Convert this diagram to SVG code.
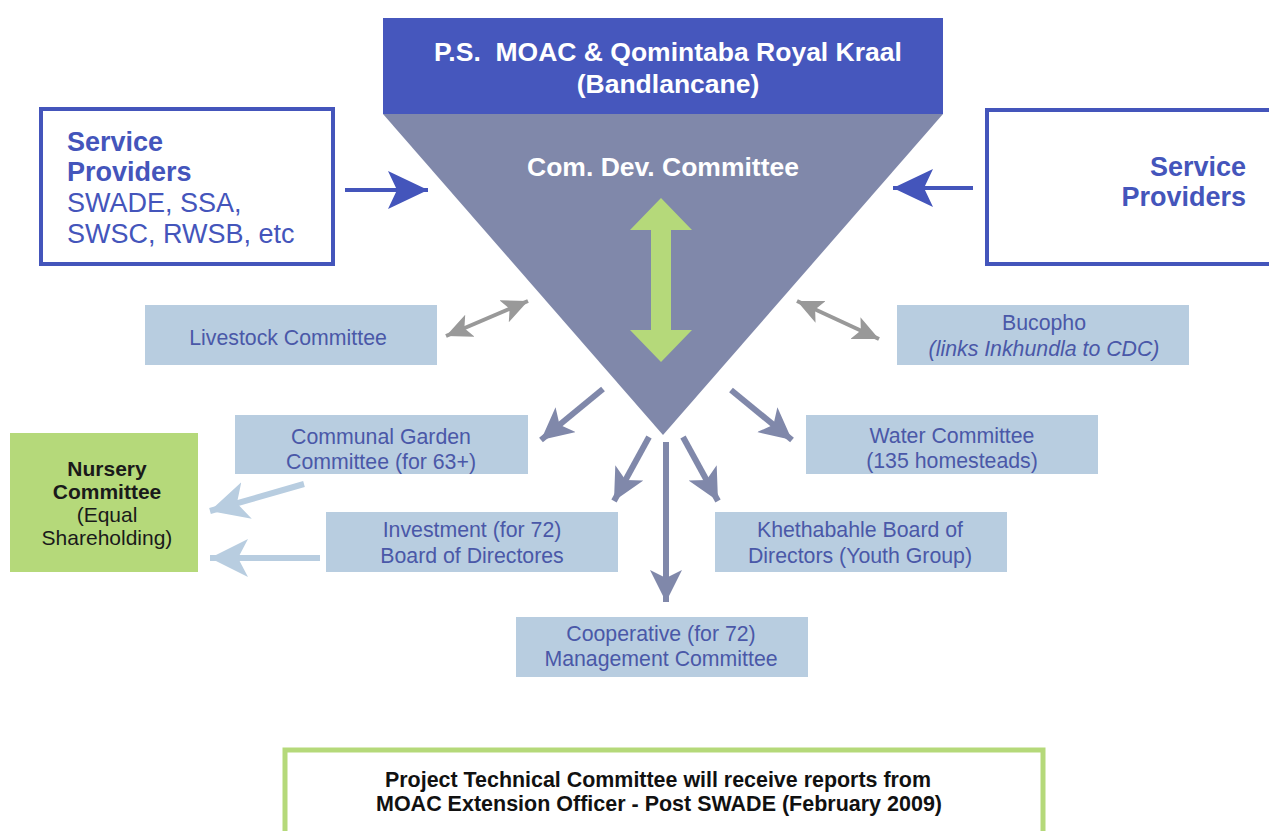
<svg xmlns="http://www.w3.org/2000/svg" width="1269" height="831" viewBox="0 0 1269 831">
<style>
.t{font-family:"Liberation Sans",Arial,sans-serif}
.w{fill:#ffffff;font-weight:bold}
.sp{fill:#4455bb;font-size:27px}
.lb{fill:#b8cde0}
.lt{fill:#4a58a8;font-size:21.3px;text-anchor:middle}
.nt{fill:#1a1a1a;font-size:21px;text-anchor:middle}
.bt{fill:#111111;font-size:21.5px;font-weight:bold;text-anchor:middle}
</style>
<defs>
<marker id="hb" markerUnits="userSpaceOnUse" markerWidth="42" markerHeight="40" refX="40" refY="19" orient="auto"><path d="M0,0 L40,19 L0,38 L9,19 Z" fill="#4455bb"/></marker>
<marker id="hs" markerUnits="userSpaceOnUse" markerWidth="34" markerHeight="34" refX="32" refY="16" orient="auto"><path d="M0,0 L32,16 L0,32 L8,16 Z" fill="#8088aa"/></marker>
<marker id="hg" markerUnits="userSpaceOnUse" markerWidth="28" markerHeight="26" refX="26" refY="12" orient="auto-start-reverse"><path d="M0,0 L26,12 L0,24 L6,12 Z" fill="#999999"/></marker>
<marker id="hl" markerUnits="userSpaceOnUse" markerWidth="40" markerHeight="40" refX="38" refY="19" orient="auto"><path d="M0,0 L38,19 L0,38 L10,19 Z" fill="#b8cde0"/></marker>
</defs>
<rect width="1269" height="831" fill="#ffffff"/>

<g id="cdc">
<polygon points="383,114 943,114 663,435" fill="#8088aa"/>
<text class="t w" x="663" y="176" font-size="26.5" text-anchor="middle">Com. Dev. Committee</text>
<polygon points="661,198 692,230 671,230 671,330 692,330 661,362 630,330 651,330 651,230 630,230" fill="#b5d97a"/>
</g>

<g id="top">
<rect x="383" y="18" width="560" height="96" fill="#4657bd"/>
<text class="t w" x="668" y="61" font-size="26.5" text-anchor="middle" xml:space="preserve">P.S.  MOAC &amp; Qomintaba Royal Kraal</text>
<text class="t w" x="668" y="93" font-size="26.5" text-anchor="middle">(Bandlancane)</text>
</g>

<g id="sp-left">
<rect x="41" y="109" width="292" height="155" fill="#ffffff" stroke="#4455bb" stroke-width="4"/>
<text class="t sp" x="67" y="151" font-weight="bold">Service</text>
<text class="t sp" x="67" y="181" font-weight="bold">Providers</text>
<text class="t sp" x="67" y="212">SWADE, SSA,</text>
<text class="t sp" x="67" y="243">SWSC, RWSB, etc</text>
</g>

<g id="sp-right">
<rect x="987" y="110" width="290" height="154" fill="#ffffff" stroke="#4455bb" stroke-width="4"/>
<text class="t sp" x="1246" y="176" font-weight="bold" text-anchor="end">Service</text>
<text class="t sp" x="1246" y="206" font-weight="bold" text-anchor="end">Providers</text>
</g>

<g id="livestock">
<rect class="lb" x="145" y="305" width="292" height="60"/>
<text class="t lt" x="288" y="345">Livestock Committee</text>
</g>
<g id="bucopho">
<rect class="lb" x="897" y="305" width="292" height="60"/>
<text class="t lt" x="1044" y="330">Bucopho</text>
<text class="t lt" x="1044" y="356" font-style="italic">(links Inkhundla to CDC)</text>
</g>
<g id="garden">
<rect class="lb" x="235" y="415" width="293" height="59"/>
<text class="t lt" x="381" y="444">Communal Garden</text>
<text class="t lt" x="381" y="469">Committee (for 63+)</text>
</g>
<g id="water">
<rect class="lb" x="806" y="415" width="292" height="59"/>
<text class="t lt" x="952" y="443">Water Committee</text>
<text class="t lt" x="952" y="468">(135 homesteads)</text>
</g>
<g id="investment">
<rect class="lb" x="326" y="512" width="292" height="60"/>
<text class="t lt" x="472" y="537">Investment (for 72)</text>
<text class="t lt" x="472" y="563">Board of Directores</text>
</g>
<g id="khethabahle">
<rect class="lb" x="715" y="512" width="292" height="60"/>
<text class="t lt" x="860" y="537">Khethabahle Board of</text>
<text class="t lt" x="860" y="563">Directors (Youth Group)</text>
</g>
<g id="cooperative">
<rect class="lb" x="516" y="617" width="292" height="60"/>
<text class="t lt" x="661" y="641">Cooperative (for 72)</text>
<text class="t lt" x="661" y="666">Management Committee</text>
</g>
<g id="nursery">
<rect x="10" y="433" width="188" height="139" fill="#b5d97a"/>
<text class="t nt" x="107" y="476" font-weight="bold">Nursery</text>
<text class="t nt" x="107" y="499" font-weight="bold">Committee</text>
<text class="t nt" x="107" y="522">(Equal</text>
<text class="t nt" x="107" y="545">Shareholding)</text>
</g>

<g id="ptc">
<rect x="285" y="750" width="758" height="90" fill="#ffffff" stroke="#b5d97a" stroke-width="5"/>
<text class="t bt" x="658" y="787" textLength="546" lengthAdjust="spacingAndGlyphs">Project Technical Committee will receive reports from</text>
<text class="t bt" x="659" y="811" textLength="566" lengthAdjust="spacingAndGlyphs">MOAC Extension Officer - Post SWADE (February 2009)</text>
</g>

<g id="connectors" fill="none">
<line x1="345" y1="190" x2="428" y2="190" stroke="#4455bb" stroke-width="4" marker-end="url(#hb)"/>
<line x1="973" y1="188" x2="893" y2="188" stroke="#4455bb" stroke-width="4" marker-end="url(#hb)"/>
<line x1="446" y1="336" x2="528" y2="301" stroke="#999999" stroke-width="4" marker-start="url(#hg)" marker-end="url(#hg)"/>
<line x1="797" y1="301" x2="879" y2="339" stroke="#999999" stroke-width="4" marker-start="url(#hg)" marker-end="url(#hg)"/>
<line x1="603" y1="389" x2="541" y2="440" stroke="#8088aa" stroke-width="6" marker-end="url(#hs)"/>
<line x1="731" y1="390" x2="792" y2="440" stroke="#8088aa" stroke-width="6" marker-end="url(#hs)"/>
<line x1="649" y1="437" x2="614" y2="501" stroke="#8088aa" stroke-width="6" marker-end="url(#hs)"/>
<line x1="683" y1="437" x2="718" y2="501" stroke="#8088aa" stroke-width="6" marker-end="url(#hs)"/>
<line x1="666" y1="442" x2="666" y2="602" stroke="#8088aa" stroke-width="6" marker-end="url(#hs)"/>
<line x1="304" y1="484" x2="210" y2="511" stroke="#b8cde0" stroke-width="6" marker-end="url(#hl)"/>
<line x1="320" y1="558" x2="210" y2="558" stroke="#b8cde0" stroke-width="6" marker-end="url(#hl)"/>
</g>
</svg>
